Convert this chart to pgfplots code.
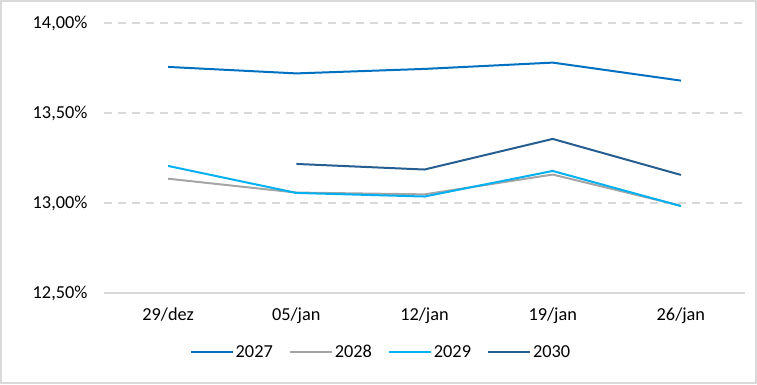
\documentclass[border=0pt]{standalone}
\usepackage{pgfplots}
\pgfplotsset{compat=1.18}
\usepackage{fontspec}
\setmainfont{Carlito}
\definecolor{c27}{HTML}{0070C0}
\definecolor{c28}{HTML}{A5A5A5}
\definecolor{c29}{HTML}{00B0F0}
\definecolor{c30}{HTML}{255E91}
\definecolor{gridc}{HTML}{D9D9D9}
\newcommand{\chartfont}{\fontsize{18.3}{21}\selectfont}
\begin{document}
\begin{tikzpicture}[font=\chartfont]
\begin{axis}[
  at={(0pt,0pt)}, anchor=south west,
  scale only axis, width=641pt, height=270pt,
  xmin=-0.5, xmax=4.5, ymin=12.5, ymax=14,
  xtick={0,1,2,3,4},
  xticklabels={29/dez,05/jan,12/jan,19/jan,26/jan},
  ytick={12.5,13,13.5,14},
  yticklabels={{12,50\%},{13,00\%},{13,50\%},{14,00\%}},
  axis line style={draw=none},
  tick style={draw=none},
  ymajorgrids, grid style={gridc, dash pattern=on 8pt off 6pt, line width=1.6pt},
  every tick label/.append style={font=\chartfont},
  yticklabel style={xshift=-13pt},
  xticklabel style={yshift=-11pt},
  clip=false,
  legend columns=4,
  legend style={at={(0.432,-0.2185)}, anchor=center, draw=none, fill=none, font=\chartfont,
    /tikz/every even column/.append style={column sep=14pt}},
  legend image code/.code={\draw[#1] (0pt,0pt) -- (42pt,0pt);},
  every axis plot/.append style={line width=2pt},
]
\draw[gridc, line width=1.8pt] (axis cs:-0.5,12.5) -- (axis cs:4.5,12.5);
\addplot[c27] coordinates {(0,13.756) (1,13.72) (2,13.745) (3,13.78) (4,13.68)};
\addlegendentry{2027}
\addplot[c28] coordinates {(0,13.135) (1,13.058) (2,13.048) (3,13.158) (4,12.985)};
\addlegendentry{2028}
\addplot[c29] coordinates {(0,13.206) (1,13.056) (2,13.036) (3,13.178) (4,12.983)};
\addlegendentry{2029}
\addplot[c30] coordinates {(1,13.217) (2,13.186) (3,13.356) (4,13.156)};
\addlegendentry{2030}
\end{axis}
\draw[gridc, line width=2pt] (-103pt,-90pt) rectangle (652pt,292pt);
\pgfresetboundingbox
\path[use as bounding box] (-104pt,-91pt) rectangle (653pt,293pt);
\end{tikzpicture}
\end{document}
